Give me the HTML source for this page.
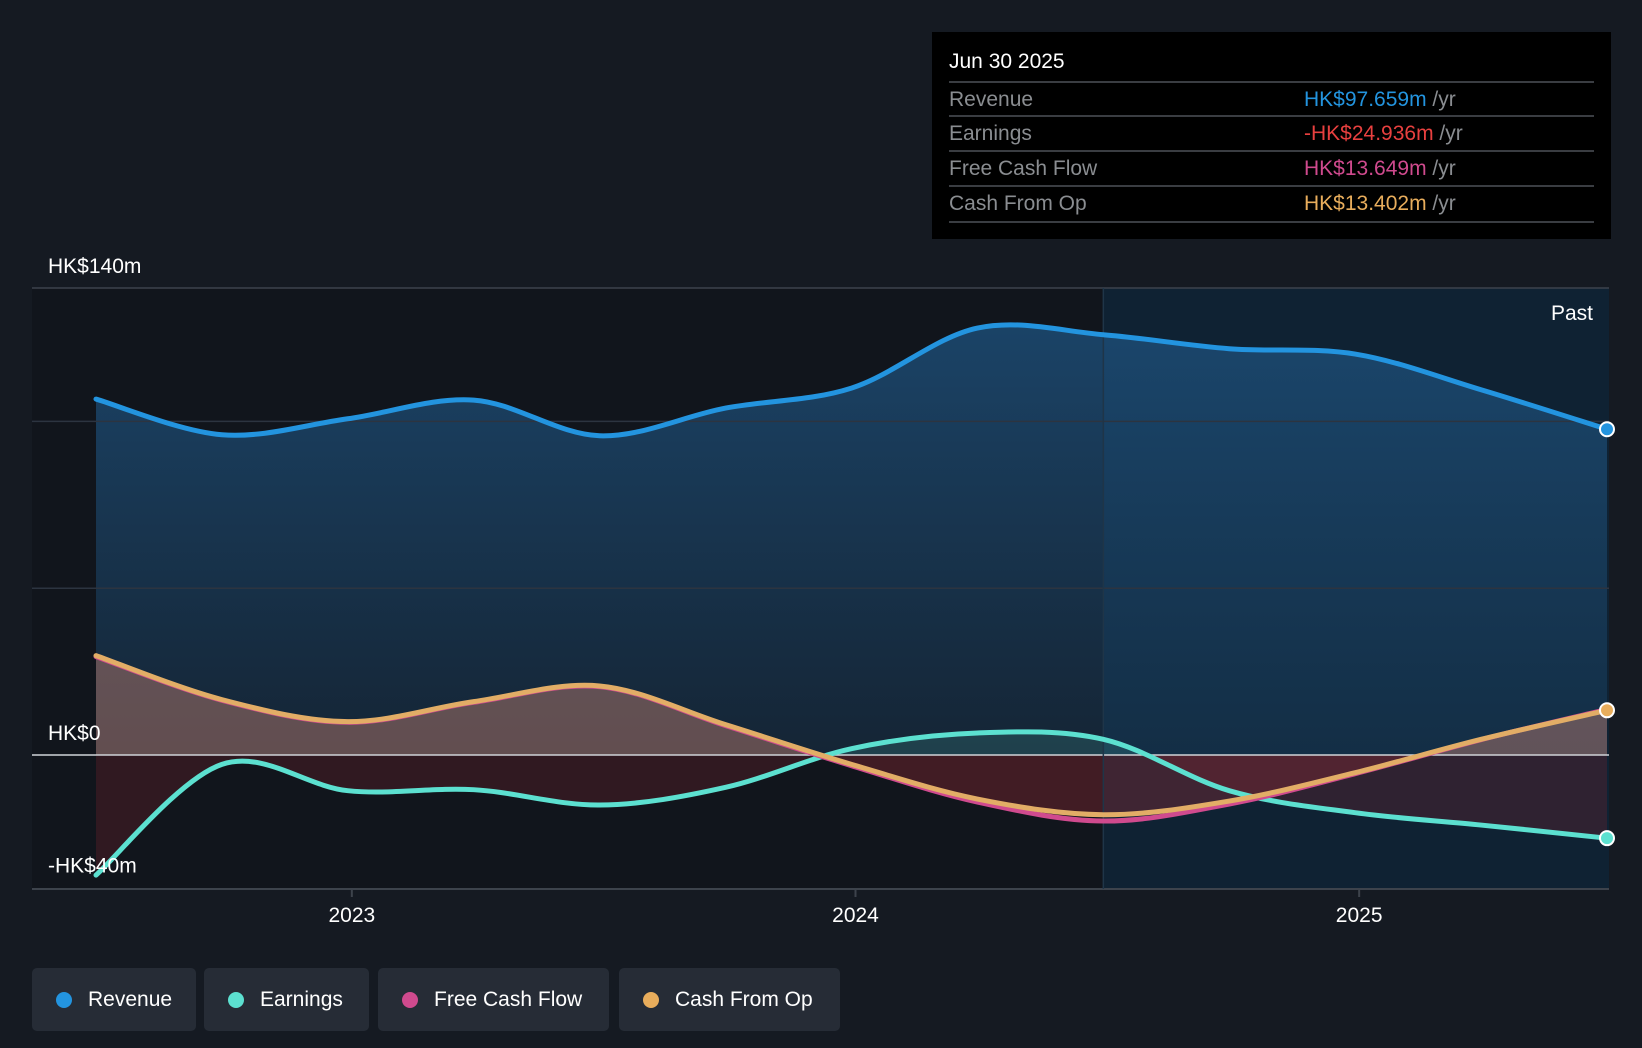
<!DOCTYPE html>
<html><head><meta charset="utf-8">
<style>
body{margin:0;background:#151a22;width:1642px;height:1048px;overflow:hidden;font-family:"Liberation Sans",sans-serif;}
svg{position:absolute;left:0;top:0}
.tt{position:absolute;left:932px;top:32px;width:679px;height:207px;background:#000;}
.tt .d{position:absolute;left:17px;top:18px;color:#fff;font-size:21px}
.row{position:absolute;left:17px;width:645px;height:34px;border-top:2px solid #3a3d42;font-size:21px;color:#8a8d91;line-height:34px}
.row .v{position:absolute;left:355px;top:0}
.row .v span{color:#8a8d91}
.leg{position:absolute;top:968px;height:63px;background:#262c36;border-radius:5px;color:#fff;font-size:21px;line-height:63px}
.leg i{position:absolute;left:24px;top:24px;width:16px;height:16px;border-radius:50%}
.leg b{font-weight:normal;position:absolute;left:56px}
</style></head><body>
<svg width="1642" height="1048" id="chart"></svg>
<div class="tt">
<div class="d">Jun 30 2025</div>
<div class="row" style="top:49px">Revenue<div class="v" style="color:#2394df">HK$97.659m <span>/yr</span></div></div>
<div class="row" style="top:83px">Earnings<div class="v" style="color:#e8403f">-HK$24.936m <span>/yr</span></div></div>
<div class="row" style="top:118px">Free Cash Flow<div class="v" style="color:#d04a8e">HK$13.649m <span>/yr</span></div></div>
<div class="row" style="top:153px;border-bottom:2px solid #3a3d42">Cash From Op<div class="v" style="color:#e8ad5c">HK$13.402m <span>/yr</span></div></div>
</div>
<div class="leg" style="left:32px;width:164px"><i style="background:#2394df"></i><b>Revenue</b></div>
<div class="leg" style="left:204px;width:165px"><i style="background:#5ce0d0"></i><b>Earnings</b></div>
<div class="leg" style="left:378px;width:231px"><i style="background:#d04a8e"></i><b>Free Cash Flow</b></div>
<div class="leg" style="left:619px;width:221px"><i style="background:#e8ad5c"></i><b>Cash From Op</b></div>
<script>
const dates=[2022.5,2022.75,2023,2023.25,2023.5,2023.75,2024,2024.25,2024.5,2024.75,2025,2025.25,2025.5];
const revenue=[106.7,96,100.8,106.4,95.7,104,110,128,126,121.8,120.2,109.5,97.659];
const earnings=[-36,-2.8,-10.7,-10.4,-15,-9.7,1.9,6.6,4.7,-10.7,-17.3,-21,-24.936];
const fcf=[29.5,16.4,9.8,15.8,20.5,8.8,-3.2,-14.1,-19.8,-14.7,-5.6,4.6,13.649];
const cfo=[29.8,16.6,10,16,20.7,9.1,-2.8,-13.2,-17.9,-13.8,-5.3,4.7,13.402];
const yTicks=[140,100,50,0,-40];
const yLabels={140:"HK$140m",0:"HK$0","-40":"-HK$40m"};
const xTicks=[2023,2024,2025];
const NS="http://www.w3.org/2000/svg";
const svg=document.getElementById('chart');
const L=32,R=1609,T=288,B=889;
const x=t=>96+(t-2022.5)/3*(1607-96);
const y=v=>755-v*(755-288)/140;
function el(tag,a,p){const e=document.createElementNS(NS,tag);for(const k in a)e.setAttribute(k,a[k]);(p||svg).appendChild(e);return e;}
const defs=el('defs',{});
defs.innerHTML='<linearGradient id="rg" x1="0" y1="0" x2="0" y2="1"><stop offset="0" stop-color="#1d4f7a" stop-opacity="0.8"/><stop offset="1" stop-color="#1d4a70" stop-opacity="0.3"/></linearGradient><linearGradient id="cg" x1="0" y1="0" x2="0" y2="1"><stop offset="0" stop-color="#c77a6a" stop-opacity="0.6"/><stop offset="1" stop-color="#8a3a3a" stop-opacity="0.5"/></linearGradient>'+
'<clipPath id="above"><rect x="0" y="0" width="1642" height="'+y(0)+'"/></clipPath><clipPath id="below"><rect x="0" y="'+y(0)+'" width="1642" height="400"/></clipPath>';
const bgL=el('rect',{x:L,y:T,width:x(2024.5)-L,height:B-T,fill:'#11151c'});

const bgR=el('rect',{x:x(2024.5),y:T,width:R-x(2024.5),height:B-T,fill:'#0f2233'});

function path(vals){const p=vals.map((v,i)=>[x(dates[i]),y(v)]);let d='M'+p[0][0]+','+p[0][1];
for(let i=0;i<p.length-1;i++){const p0=p[i-1]||p[i],p1=p[i],p2=p[i+1],p3=p[i+2]||p2;
d+=' C'+(p1[0]+(p2[0]-p0[0])/6)+','+(p1[1]+(p2[1]-p0[1])/6)+' '+(p2[0]-(p3[0]-p1[0])/6)+','+(p2[1]-(p3[1]-p1[1])/6)+' '+p2[0]+','+p2[1];}return d;}
function area(vals){return path(vals)+' L'+x(dates[dates.length-1])+','+y(0)+' L'+x(dates[0])+','+y(0)+'Z';}
const ra=el('path',{d:area(revenue),fill:'url(#rg)'});
const ca=el('path',{d:area(cfo),fill:'#c08070',opacity:0.45,'clip-path':'url(#above)'});
const cb=el('path',{d:area(cfo),fill:'#9a2a35',opacity:0.35,'clip-path':'url(#below)'});
const ea=el('path',{d:area(earnings),fill:'#5ce0d0',opacity:0.15,'clip-path':'url(#above)'});
const eb=el('path',{d:area(earnings),fill:'#7a2530',opacity:0.3,'clip-path':'url(#below)'});
yTicks.forEach(v=>{if(v===0||v===-40)return;const g=el('line',{x1:L,x2:R,y1:y(v),y2:y(v),stroke:v===140?'#3d434c':'#2c3440','stroke-width':1.5});
});
const zl=el('line',{x1:L,x2:R,y1:y(0),y2:y(0),stroke:'#d0d3d8','stroke-width':1.5});
const xa=el('line',{x1:L,x2:R,y1:B,y2:B,stroke:'#3d434c','stroke-width':2});
const dv=el('line',{x1:x(2024.5),x2:x(2024.5),y1:T,y2:B,stroke:'#1f3548','stroke-width':1.5});
xTicks.forEach(t=>{const tk=el('line',{x1:x(t)+4,x2:x(t)+4,y1:B,y2:B+8,stroke:'#3d434c','stroke-width':2});
const tx=el('text',{x:x(t)+4,y:922,fill:'#fff','font-size':21,'text-anchor':'middle'});tx.textContent=t;});
[[revenue,'#2394df','revenue-line'],[earnings,'#5ce0d0','earnings-line'],[fcf,'#d04a8e','fcf-line'],[cfo,'#e2ad66','cfo-line']].forEach(([vals,c,n])=>{
const l=el('path',{d:path(vals),fill:'none',stroke:c,'stroke-width':5,'stroke-linecap':'round'});});
Object.keys(yLabels).forEach(k=>{const v=+k;const tx=el('text',{x:48,y:v===-40?y(v)-16:y(v)-15,fill:'#fff','font-size':21});
tx.textContent=yLabels[k];});
const pt=el('text',{x:1593,y:320,fill:'#fff','font-size':21,'text-anchor':'end'});pt.textContent='Past';
[[revenue,'#2394df'],[earnings,'#5ce0d0'],[cfo,'#e8ad5c']].forEach(([vals,c])=>{const d=el('circle',{cx:x(dates[dates.length-1]),cy:y(vals[vals.length-1]),r:7,fill:c,stroke:'#fff','stroke-width':2});
});
</script>
</body></html>
